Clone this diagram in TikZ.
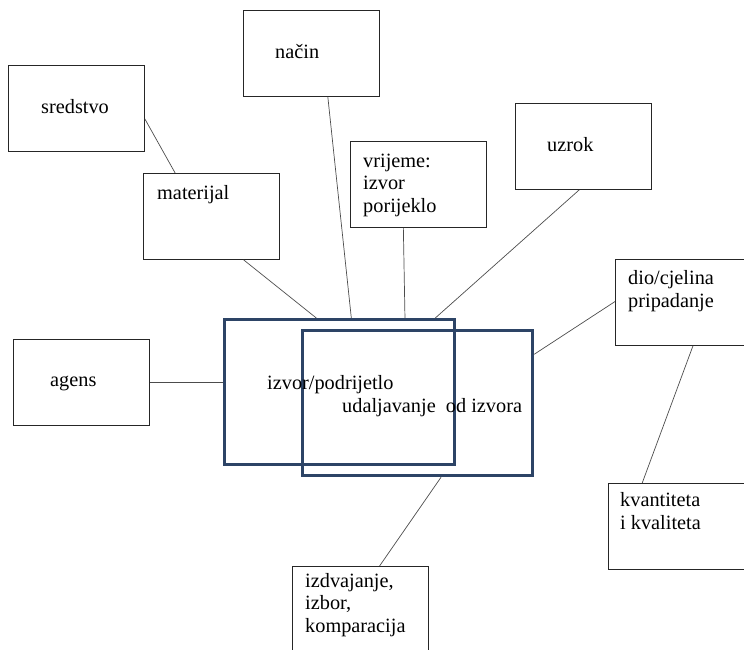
\documentclass[tikz,border=0pt]{standalone}
\usepackage{fontspec}
\setmainfont{Liberation Serif}
\usepackage{tikz}
\usetikzlibrary{calc}

\definecolor{frameblue}{RGB}{45,68,102}

\begin{document}
\begin{tikzpicture}[
  x=1pt, y=-1pt,
  box/.style={draw=black!85, line width=0.8pt, minimum width=136pt,
              minimum height=86pt, inner sep=0pt, anchor=north west},
  core/.style={draw=frameblue, line width=3.3pt, minimum width=230pt,
               minimum height=145pt, inner sep=0pt, anchor=north west},
  txt/.style={font=\fontsize{20.3}{22.5}\selectfont, inner sep=0pt,
              anchor=base west, align=left},
  lnk/.style={draw=black!70, line width=0.7pt}
]
  \clip (0,0) rectangle (744,649);

  % outer boxes
  \node[box] (sred) at (8,65)    {};
  \node[box] (nac)  at (243,10)  {};
  \node[box] (mat)  at (143,173) {};
  \node[box] (vrij) at (350,141) {};
  \node[box] (uzr)  at (515,103) {};
  \node[box] (dio)  at (615,259) {};
  \node[box] (kvan) at (608,483) {};
  \node[box] (izd)  at (292,566) {};
  \node[box] (ag)   at (13,339)  {};

  % the two overlapping frames
  \node[core] (izv) at (223,318) {};
  \node[core] (uda) at (301,329) {};

  % labels (multi-line ones sit on their last baseline)
  \node[txt] (tsred) at (41,113)  {sredstvo};
  \node[txt] (tnac)  at (275,58)  {način};
  \node[txt] (tmat)  at (157,199) {materijal};
  \node[txt] (tvrij) at (363,212) {vrijeme:\\izvor\\porijeklo};
  \node[txt] (tuzr)  at (547,151) {uzrok};
  \node[txt] (tdio)  at (628,307) {dio/cjelina\\pripadanje};
  \node[txt] (tkvan) at (620,529) {kvantiteta\\i kvaliteta};
  \node[txt] (tizd)  at (305,632) {izdvajanje,\\izbor,\\komparacija};
  \node[txt] (tag)   at (50,386)  {agens};
  \node[txt] (tizv)  at (267,389) {izvor/podrijetlo};
  \node[txt] (tuda)  at (342,412) {udaljavanje\ \ od izvora};

  % links
  \draw[lnk] ($(sred.north east)!0.62!(sred.south east)$) -- ($(mat.north west)!0.235!(mat.north east)$);
  \draw[lnk] ($(mat.south west)!0.735!(mat.south east)$) -- ($(izv.north west)!0.4!(izv.north east)$);
  \draw[lnk] ($(nac.south west)!0.62!(nac.south east)$) -- ($(izv.north west)!0.55!(izv.north east)$);
  \draw[lnk] ($(vrij.south west)!0.39!(vrij.south east)$) -- ($(izv.north west)!0.78!(izv.north east)$);
  \draw[lnk] ($(uzr.south west)!0.47!(uzr.south east)$) -- ($(izv.north west)!0.91!(izv.north east)$);
  \draw[lnk] ($(dio.north west)!0.49!(dio.south west)$) -- ($(uda.north east)!0.17!(uda.south east)$);
  \draw[lnk] ($(dio.south west)!0.57!(dio.south east)$) -- ($(kvan.north west)!0.25!(kvan.north east)$);
  \draw[lnk] ($(uda.south west)!0.6!(uda.south east)$) -- ($(izd.north west)!0.64!(izd.north east)$);
  \draw[lnk] (ag.east) -- (ag.east -| izv.west);
\end{tikzpicture}
\end{document}
